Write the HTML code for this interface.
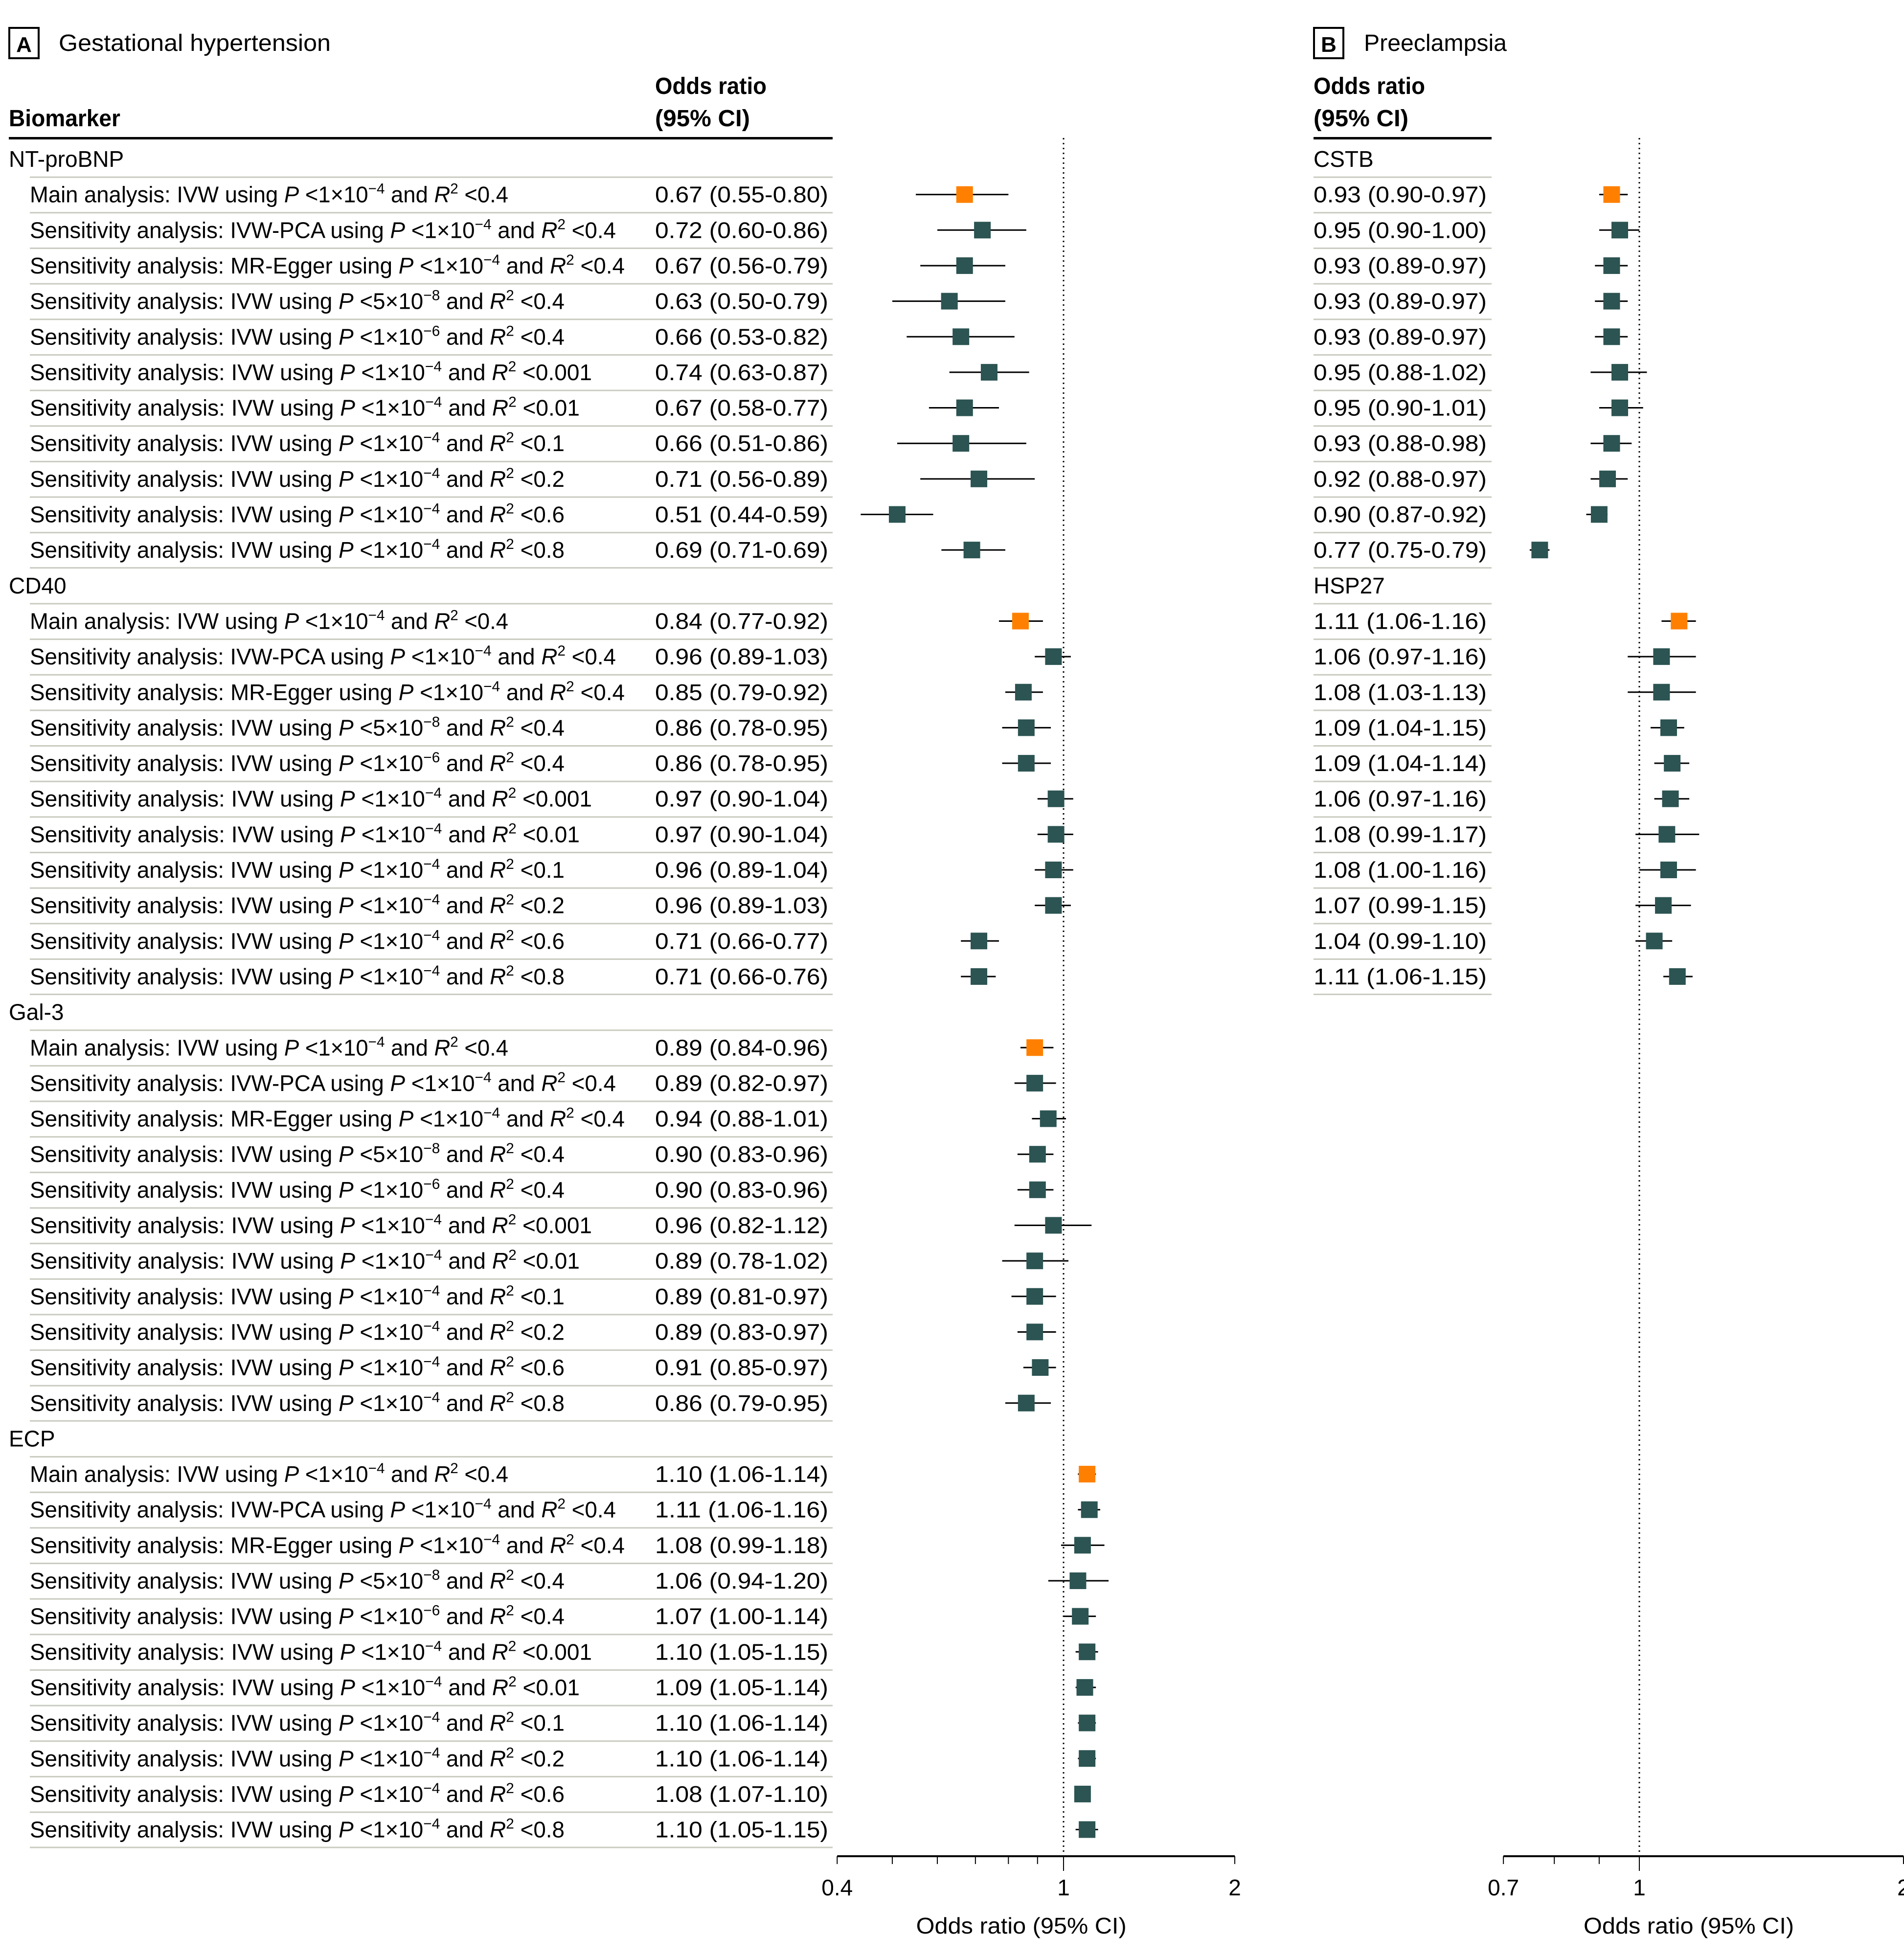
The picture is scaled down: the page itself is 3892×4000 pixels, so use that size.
<!DOCTYPE html>
<html><head><meta charset="utf-8"><style>
html,body{margin:0;padding:0;background:#fff;}
svg{display:block;font-family:"Liberation Sans Narrow","Liberation Sans",sans-serif;}
</style></head><body>
<svg id="chart" width="3892" height="4000" viewBox="0 0 3892 4000" xmlns="http://www.w3.org/2000/svg">
<rect x="0" y="0" width="3892" height="4000" fill="#fff"/>
<g>
<rect x="19" y="57" width="60" height="62" fill="none" stroke="#000" stroke-width="4"/>
<text x="49" y="106" font-size="44" font-weight="bold" text-anchor="middle">A</text>
<text x="120" y="104" font-size="48" textLength="556" lengthAdjust="spacingAndGlyphs">Gestational hypertension</text>
<text x="18" y="258" font-size="48" font-weight="bold" textLength="228" lengthAdjust="spacingAndGlyphs">Biomarker</text>
<text x="1339" y="192" font-size="48" font-weight="bold" textLength="228" lengthAdjust="spacingAndGlyphs">Odds ratio</text>
<text x="1339" y="258" font-size="48" font-weight="bold" textLength="194" lengthAdjust="spacingAndGlyphs">(95% CI)</text>
<rect x="18" y="280" width="1684" height="5" fill="#000"/>
</g>
<g>
<rect x="2686" y="57" width="60" height="62" fill="none" stroke="#000" stroke-width="4"/>
<text x="2716" y="106" font-size="44" font-weight="bold" text-anchor="middle">B</text>
<text x="2788" y="104" font-size="48" textLength="292" lengthAdjust="spacingAndGlyphs">Preeclampsia</text>
<text x="2685" y="192" font-size="48" font-weight="bold" textLength="228" lengthAdjust="spacingAndGlyphs">Odds ratio</text>
<text x="2685" y="258" font-size="48" font-weight="bold" textLength="194" lengthAdjust="spacingAndGlyphs">(95% CI)</text>
<rect x="2685" y="280" width="364" height="5" fill="#000"/>
</g>
</svg>
<script>
// ---- data ----
const groupsA = ["NT-proBNP","CD40","Gal-3","ECP"];
const groupsB = ["CSTB","HSP27"];
const methods = ["Main analysis: IVW","Sensitivity analysis: IVW-PCA","Sensitivity analysis: MR-Egger","Sensitivity analysis: IVW","Sensitivity analysis: IVW","Sensitivity analysis: IVW","Sensitivity analysis: IVW","Sensitivity analysis: IVW","Sensitivity analysis: IVW","Sensitivity analysis: IVW","Sensitivity analysis: IVW"];
const pBase = ["1","1","1","5","1","1","1","1","1","1","1"];
const pExp = ["−4","−4","−4","−8","−6","−4","−4","−4","−4","−4","−4"];
const r2Thr = ["0.4","0.4","0.4","0.4","0.4","0.001","0.01","0.1","0.2","0.6","0.8"];
const labelWidths = [978,1198,1216,1093,1093,1149,1124,1093,1093,1093,1093];

const labelsA = [
["0.67 (0.55-0.80)","0.72 (0.60-0.86)","0.67 (0.56-0.79)","0.63 (0.50-0.79)","0.66 (0.53-0.82)","0.74 (0.63-0.87)","0.67 (0.58-0.77)","0.66 (0.51-0.86)","0.71 (0.56-0.89)","0.51 (0.44-0.59)","0.69 (0.71-0.69)"],
["0.84 (0.77-0.92)","0.96 (0.89-1.03)","0.85 (0.79-0.92)","0.86 (0.78-0.95)","0.86 (0.78-0.95)","0.97 (0.90-1.04)","0.97 (0.90-1.04)","0.96 (0.89-1.04)","0.96 (0.89-1.03)","0.71 (0.66-0.77)","0.71 (0.66-0.76)"],
["0.89 (0.84-0.96)","0.89 (0.82-0.97)","0.94 (0.88-1.01)","0.90 (0.83-0.96)","0.90 (0.83-0.96)","0.96 (0.82-1.12)","0.89 (0.78-1.02)","0.89 (0.81-0.97)","0.89 (0.83-0.97)","0.91 (0.85-0.97)","0.86 (0.79-0.95)"],
["1.10 (1.06-1.14)","1.11 (1.06-1.16)","1.08 (0.99-1.18)","1.06 (0.94-1.20)","1.07 (1.00-1.14)","1.10 (1.05-1.15)","1.09 (1.05-1.14)","1.10 (1.06-1.14)","1.10 (1.06-1.14)","1.08 (1.07-1.10)","1.10 (1.05-1.15)"]];
const orA = [
[0.67,0.72,0.67,0.63,0.66,0.74,0.67,0.66,0.71,0.51,0.69],
[0.84,0.96,0.85,0.86,0.86,0.97,0.97,0.96,0.96,0.71,0.71],
[0.89,0.89,0.94,0.90,0.90,0.96,0.89,0.89,0.89,0.91,0.86],
[1.10,1.11,1.08,1.06,1.07,1.10,1.09,1.10,1.10,1.08,1.10]];
const loA = [
[0.55,0.60,0.56,0.50,0.53,0.63,0.58,0.51,0.56,0.44,0.61],
[0.77,0.89,0.79,0.78,0.78,0.90,0.90,0.89,0.89,0.66,0.66],
[0.84,0.82,0.88,0.83,0.83,0.82,0.78,0.81,0.83,0.85,0.79],
[1.06,1.06,0.99,0.94,1.00,1.05,1.05,1.06,1.06,1.07,1.05]];
const hiA = [
[0.80,0.86,0.79,0.79,0.82,0.87,0.77,0.86,0.89,0.59,0.79],
[0.92,1.03,0.92,0.95,0.95,1.04,1.04,1.04,1.03,0.77,0.76],
[0.96,0.97,1.01,0.96,0.96,1.12,1.02,0.97,0.97,0.97,0.95],
[1.14,1.16,1.18,1.20,1.14,1.15,1.14,1.14,1.14,1.10,1.15]];

const labelsB = [
["0.93 (0.90-0.97)","0.95 (0.90-1.00)","0.93 (0.89-0.97)","0.93 (0.89-0.97)","0.93 (0.89-0.97)","0.95 (0.88-1.02)","0.95 (0.90-1.01)","0.93 (0.88-0.98)","0.92 (0.88-0.97)","0.90 (0.87-0.92)","0.77 (0.75-0.79)"],
["1.11 (1.06-1.16)","1.06 (0.97-1.16)","1.08 (1.03-1.13)","1.09 (1.04-1.15)","1.09 (1.04-1.14)","1.06 (0.97-1.16)","1.08 (0.99-1.17)","1.08 (1.00-1.16)","1.07 (0.99-1.15)","1.04 (0.99-1.10)","1.11 (1.06-1.15)"]];
const orB = [
[0.93,0.95,0.93,0.93,0.93,0.95,0.95,0.93,0.92,0.90,0.77],
[1.11,1.06,1.06,1.08,1.09,1.085,1.075,1.08,1.065,1.04,1.105]];
const loB = [
[0.90,0.90,0.89,0.89,0.89,0.88,0.90,0.88,0.88,0.87,0.75],
[1.06,0.97,0.97,1.03,1.04,1.04,0.99,1.00,0.99,0.99,1.065]];
const hiB = [
[0.97,1.00,0.97,0.97,0.97,1.02,1.01,0.98,0.97,0.92,0.79],
[1.16,1.16,1.16,1.125,1.14,1.14,1.17,1.16,1.145,1.09,1.15]];

const ticksA = [0.4,0.5,0.6,0.7,0.8,0.9,1,2];
const tickLabelsA = ["0.4","1","2"];
const ticksB = [0.7,0.8,0.9,1,2];
const tickLabelsB = ["0.7","1","2"];

// ---- scales ----
const NS = "http://www.w3.org/2000/svg";
const svg = document.getElementById("chart");
const xA = v => 2174 + 505 * Math.log(v);
const xB = v => 3351 + 779 * Math.log(v);
const rowY = i => 325 + 72.65 * i;
const AXIS_Y = 3794;

function mk(tag, attrs, parent) {
  const e = document.createElementNS(NS, tag);
  for (const k in attrs) e.setAttribute(k, attrs[k]);
  (parent || svg).appendChild(e);
  return e;
}

function methodLabel(j, y, parent) {
  const t = mk("text", {x: 61, y: y + 16, "font-size": 46, textLength: labelWidths[j], lengthAdjust: "spacingAndGlyphs"}, parent);
  
  
  const add = (txt, extra) => { const s = mk("tspan", extra || {}, t); s.textContent = txt; return s; };
  add(methods[j] + " using ");
  add("P", {"font-style": "italic"});
  add(" <" + pBase[j] + "×10");
  add(pExp[j], {"font-size": 30, dy: -18});
  add(" and ", {dy: 18});
  add("R", {"font-style": "italic"});
  add("2", {"font-size": 30, dy: -18});
  add(" <" + r2Thr[j], {dy: 18});
}

function drawPanel(groups, labels, ors, los, his, xs, textX, lineX1, lineX2, showMethods) {
  const g = mk("g", {});
  
  
  let i = 0;
  groups.forEach((name, gi) => {
    const hy = rowY(i);
    const ht = mk("text", {x: lineX1 === 61 ? 18 : lineX1, y: hy + 16, "font-size": 46}, g);
    
    
    ht.textContent = name;
    i++;
    for (let j = 0; j < 11; j++) {
      const y = rowY(i);
      const sep = mk("rect", {x: lineX1, y: y - 37, width: lineX2 - lineX1, height: 3, fill: "#c9cbc0"}, g);
      
      
      if (showMethods) methodLabel(j, y, g);
      const vt = mk("text", {x: textX, y: y + 16, "font-size": 46, textLength: 354, lengthAdjust: "spacingAndGlyphs"}, g);
      
      
      vt.textContent = labels[gi][j];
      const ci = mk("line", {x1: xs(los[gi][j]), x2: xs(his[gi][j]), y1: y, y2: y, stroke: "#000", "stroke-width": 3}, g);
      
      
      const cx = xs(ors[gi][j]);
      const pt = mk("rect", {x: cx - 17, y: y - 17, width: 34, height: 34, fill: j === 0 ? "#ff8000" : "#2b5452"}, g);
      
      
      i++;
    }
    const last = mk("rect", {x: lineX1, y: rowY(i - 1) + 35, width: lineX2 - lineX1, height: 3, fill: "#c9cbc0"}, g);
    
    
  });
}

function drawAxis(ticks, tickLabels, xs, lo, hi, title) {
  const g = mk("g", {});
  
  
  const ref = mk("line", {x1: xs(1), x2: xs(1), y1: 282, y2: AXIS_Y, stroke: "#000", "stroke-width": 3, "stroke-dasharray": "3 7"}, g);
  
  
  const ax = mk("line", {x1: xs(lo), x2: xs(hi), y1: AXIS_Y, y2: AXIS_Y, stroke: "#000", "stroke-width": 4}, g);
  
  
  ticks.forEach(t => {
    const tk = mk("line", {x1: xs(t), x2: xs(t), y1: AXIS_Y, y2: AXIS_Y + (t === 1 ? 30 : 16), stroke: "#000", "stroke-width": 2}, g);
    
    
  });
  tickLabels.forEach(l => {
    const tl = mk("text", {x: xs(parseFloat(l)), y: 3874, "font-size": 46, "text-anchor": "middle"}, g);
    
    
    tl.textContent = l;
  });
  const at = mk("text", {x: (xs(lo) + xs(hi)) / 2 - 30, y: 3952, "font-size": 46, "text-anchor": "middle", textLength: 430, lengthAdjust: "spacingAndGlyphs"}, g);
  
  
  at.textContent = "Odds ratio (95% CI)";
}

drawAxis(ticksA, tickLabelsA, xA, 0.4, 2, "panel-a-x-axis");
drawAxis(ticksB, tickLabelsB, xB, 0.7, 2, "panel-b-x-axis");
drawPanel(groupsA, labelsA, orA, loA, hiA, xA, 1339, 61, 1702, true);
drawPanel(groupsB, labelsB, orB, loB, hiB, xB, 2685, 2685, 3049, false);
</script>
</body></html>
